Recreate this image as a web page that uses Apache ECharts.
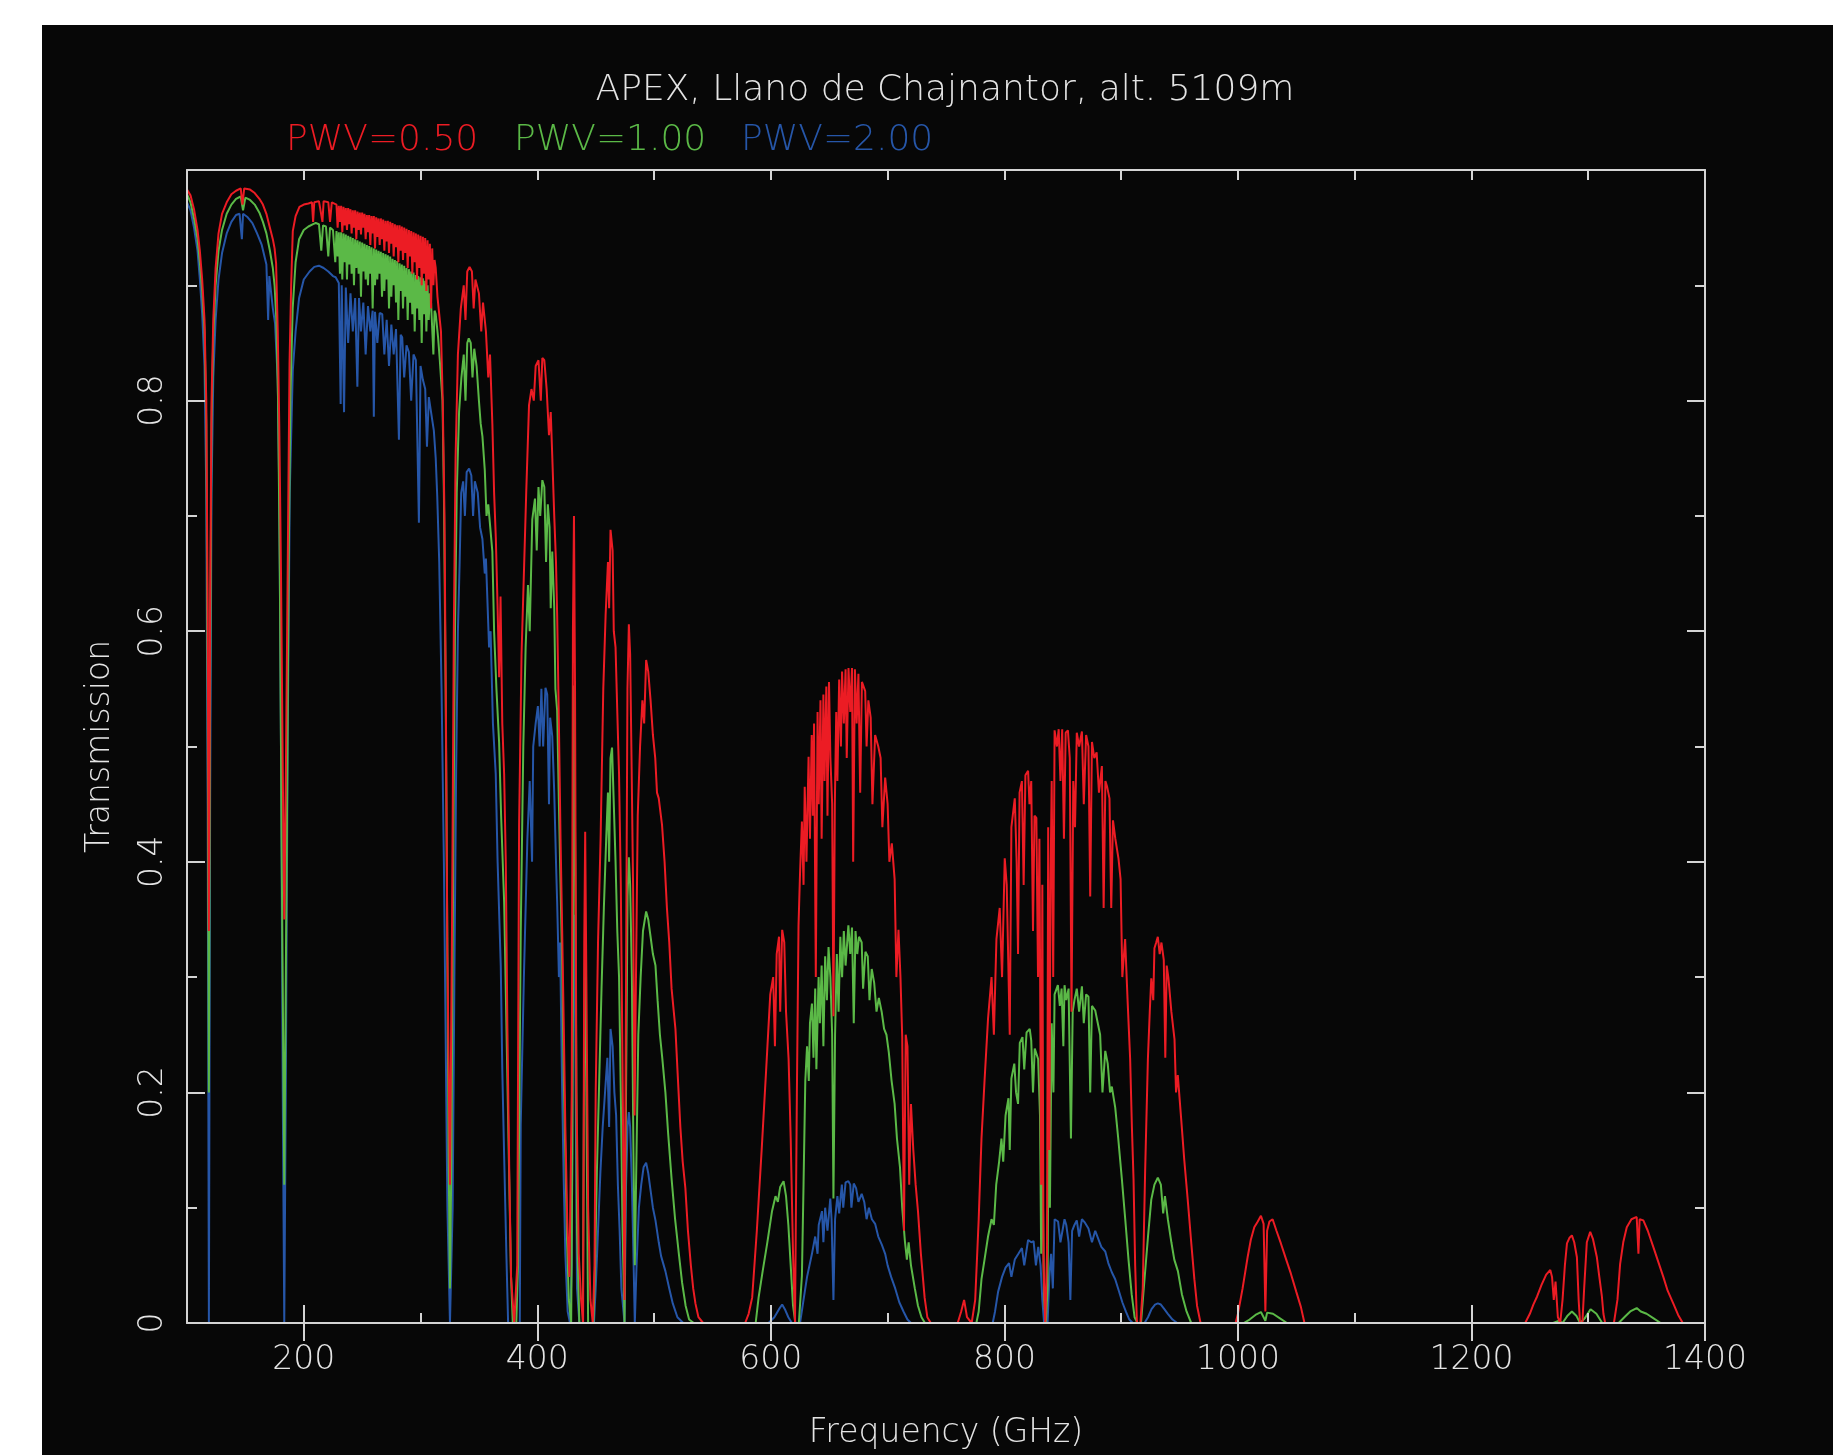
<!DOCTYPE html>
<html>
<head>
<meta charset="utf-8">
<script src="https://cdn.jsdelivr.net/npm/echarts@6.0.0/dist/echarts.min.js"></script>
<style>
  html, body { margin: 0; padding: 0; background: #ffffff; width: 1833px; height: 1455px; overflow: hidden; }
  #chart { position: absolute; left: 42px; top: 25px; width: 1791px; height: 1430px; }
</style>
</head>
<body>
<div id="chart"></div>
<script>
// ---- data: [frequency (GHz), transmission] ----
const titleText = 'APEX, Llano de Chajnantor, alt. 5109m';
const seriesNames = ['PWV=0.50', 'PWV=1.00', 'PWV=2.00'];
const seriesColors = ['#ec1c24', '#5bb947', '#2656a8'];
const freqMajorTicks = [200, 400, 600, 800, 1000, 1200, 1400];

const pwv050 = [
  [100,0.983],[103,0.978],[106,0.966],[109,0.948],[111,0.93],[113,0.905],[115,0.87],[116.5,0.80],[117.7,0.62],[118.75,0.34],
  [119.8,0.62],[121,0.80],[122.5,0.87],[124.5,0.915],[127,0.945],[130,0.962],[134,0.972],[138,0.979],[142,0.982],[146,0.984],
  [147.5,0.97],[149,0.984],[154,0.983],[158,0.98],[162,0.975],[165,0.97],[168,0.962],[171,0.95],[173.5,0.94],[175,0.932],
  [176.3,0.919],[177.7,0.861],[179,0.78],[180.5,0.65],[182,0.48],[183.3,0.35],[184.7,0.48],[186.2,0.65],[187.8,0.832],[189.2,0.90],
  [190.6,0.947],[193,0.96],[196.3,0.968],[200,0.970],[204,0.971],[207,0.972],[208,0.955],[209,0.972],[213,0.973],[216,0.955],
  [217,0.973],[221,0.972],[222.5,0.955],[224,0.972],
  [228,0.970],[229,0.950],[230,0.969],[231,0.955],[232,0.969],[233,0.946],[234,0.968],[235,0.952],[236,0.967],[237,0.948],
  [238,0.967],[239,0.953],[240,0.966],[241,0.945],[242,0.965],[243,0.950],[244,0.965],[245,0.940],[246,0.964],[247,0.948],
  [248,0.963],[249,0.944],[250,0.963],[251,0.950],[252,0.962],[253,0.940],[254,0.961],[255,0.946],[256,0.961],[257,0.935],
  [258,0.960],[259,0.945],[260,0.960],[261,0.932],[262,0.959],[263,0.942],[264,0.958],[265,0.935],[266,0.958],[267,0.940],
  [268,0.957],[269,0.930],[270,0.956],[271,0.938],[272,0.956],[273,0.928],[274,0.955],[275,0.936],[276,0.954],[277,0.925],
  [278,0.953],[279,0.933],[280,0.952],[281,0.920],[282,0.952],[283,0.930],[284,0.951],[285,0.922],[286,0.950],[287,0.928],
  [288,0.949],[289,0.915],[290,0.948],[291,0.925],[292,0.947],[293,0.910],[294,0.946],[295,0.920],[296,0.945],[297,0.905],
  [298,0.944],[299,0.915],[300,0.943],[301,0.900],[302,0.942],[303,0.910],[304,0.941],[305,0.895],[306,0.939],[307,0.905],
  [308,0.936],[309,0.880],[310,0.932],[311,0.900],[312,0.922],[313,0.915],[314.5,0.89],[316,0.89],
  [317.5,0.86],[319,0.80],[320.5,0.70],[321.8,0.52],[323,0.32],[325.2,0.12],[327,0.35],[328.5,0.60],[330,0.75],[332,0.84],
  [334.5,0.88],[337,0.90],[338.5,0.87],[340,0.912],[342,0.916],[344,0.912],[345.5,0.88],[347,0.905],[350,0.893],[352,0.86],
  [353.5,0.885],[356,0.86],[358,0.82],[359.5,0.84],[361.5,0.78],[363,0.72],[364.5,0.68],[366,0.62],[367.3,0.56],[368.5,0.63],
  [370,0.52],[371.6,0.476],[373,0.40],[374.4,0.255],[376,0.13],[377.5,0.04],[380.2,0.0],[382.8,0.05],[384.4,0.432],[386.5,0.58],
  [388.6,0.653],[390.5,0.72],[392.9,0.796],[395,0.81],[397,0.80],[398.6,0.83],[401,0.835],[403,0.80],[404.3,0.837],[406,0.835],
  [408,0.81],[410,0.77],[411.5,0.79],[412.8,0.752],[414.5,0.70],[416,0.66],[417,0.614],[418.5,0.52],[419.9,0.42],[421.3,0.34],
  [422.7,0.255],[424,0.17],[425.6,0.09],[427.5,0.04],[429.5,0.2],[430.5,0.6],[431.4,0.70],[432.3,0.55],[433.5,0.2],[435.5,0.06],
  [437.5,0.02],[439.2,0.0],[440.2,0.33],[441,0.426],[442,0.3],[443.5,0.1],[445.5,0.02],[447.5,0.0],[449,0.05],[450,0.2],
  [452,0.33],[454.2,0.42],[456.5,0.55],[458.5,0.614],[460.5,0.66],[461.5,0.62],[462.7,0.688],[464.5,0.67],[465.5,0.60],[467,0.586],
  [468.5,0.53],[470,0.476],[471.5,0.38],[473,0.22],[474.7,0.02],[476,0.3],[477.2,0.55],[478.4,0.606],[479.5,0.58],[480.8,0.48],
  [482,0.38],[483.3,0.18],[484.5,0.30],[486,0.44],[488,0.50],[490,0.54],[491.5,0.52],[493.2,0.575],[495,0.565],[497,0.54],
  [499,0.51],[501,0.49],[502.5,0.46],[504,0.455],[506.8,0.432],[509,0.40],[511,0.36],[513,0.33],[515,0.29],[518.3,0.255],
  [520,0.22],[522.5,0.17],[524.5,0.14],[526.8,0.117],[529,0.08],[531.5,0.05],[533.5,0.03],[535.4,0.017],[538,0.005],[542,0.0],
  [578,0.0],[581,0.008],[584,0.022],[588,0.08],[592.3,0.153],[596,0.22],[599.5,0.285],[602,0.30],[603.5,0.24],[605,0.32],
  [607,0.335],[608,0.27],[609.7,0.341],[611.5,0.33],[613,0.27],[615.2,0.229],[617,0.16],[619,0.06],[620.7,0.0],[622.3,0.2],
  [623.7,0.345],[625,0.39],[626.6,0.435],[628,0.38],[629,0.465],[630.5,0.40],[632.3,0.491],[633.5,0.42],[635,0.51],[636,0.44],
  [637,0.52],[638.5,0.30],[640,0.53],[641,0.45],[642.5,0.54],[643.5,0.42],[645,0.545],[646,0.47],[647.5,0.552],[648.5,0.44],
  [649.8,0.556],[651,0.49],[652.5,0.45],[653.6,0.266],[654.8,0.45],[656,0.53],[657,0.47],[658.5,0.558],[660,0.50],[661,0.565],
  [662.5,0.52],[664,0.567],[665,0.49],[666.5,0.568],[668,0.53],[669.5,0.568],[670.5,0.40],[672,0.567],[673.5,0.52],[675,0.563],
  [676.5,0.46],[678,0.556],[680.8,0.548],[682,0.50],[683.5,0.54],[685.5,0.525],[687,0.45],[689.3,0.51],[692,0.50],[694,0.49],
  [695.5,0.43],[697.9,0.473],[700,0.45],[701.5,0.40],[703.6,0.416],[706,0.385],[707.5,0.30],[709.3,0.341],[711,0.30],[712.5,0.248],
  [714,0.08],[715.5,0.25],[717,0.24],[718.5,0.12],[720,0.19],[722,0.15],[724,0.12],[726,0.097],[728.5,0.06],[731.7,0.022],
  [734,0.005],[737,0.0],[760,0.0],[763,0.01],[765.5,0.02],[768,0.005],[772,0.0],[775,0.02],[778,0.09],[780.4,0.16],
  [783,0.21],[786,0.264],[789,0.30],[791,0.25],[793.2,0.333],[796,0.36],[798,0.30],[800.3,0.403],[802,0.38],[804.6,0.25],
  [806,0.43],[808.9,0.455],[810.5,0.40],[811.7,0.32],[813,0.46],[815,0.47],[816.5,0.38],[818,0.475],[820.3,0.479],[821.5,0.45],
  [823,0.47],[824.5,0.34],[825.8,0.44],[827.4,0.438],[828.8,0.30],[830,0.42],[831.5,0.12],[832.5,0.38],[833.5,0.05],[835,0.0],
  [836.5,0.06],[837.5,0.43],[838.5,0.15],[839.5,0.38],[840.5,0.47],[841.8,0.30],[843,0.514],[845,0.50],[846.5,0.515],[848,0.47],
  [849.5,0.515],[851,0.42],[852.5,0.512],[854.4,0.514],[856,0.49],[857.5,0.27],[859,0.47],[860.5,0.43],[862,0.512],[864,0.50],
  [866.4,0.513],[868,0.45],[870,0.51],[872,0.50],[873.5,0.37],[875,0.504],[877,0.49],[879,0.495],[881,0.46],[883.5,0.483],
  [885,0.36],[886.5,0.47],[888,0.465],[890,0.455],[891.5,0.36],[893,0.436],[895,0.42],[897.7,0.403],[899.5,0.385],[901,0.30],
  [903.4,0.333],[905.5,0.28],[907.7,0.229],[909.2,0.17],[910.6,0.125],[912,0.05],[913.5,0.0],[916.5,0.0],[918.5,0.03],[920.5,0.13],
  [922.9,0.229],[924.5,0.27],[925.8,0.299],[927.5,0.28],[928.5,0.325],[930,0.33],[931.4,0.335],[933,0.32],[934.5,0.33],[936.5,0.315],
  [937.8,0.23],[939,0.31],[940.5,0.299],[943,0.27],[945.7,0.246],[947,0.20],[948.5,0.215],[951.4,0.177],[954,0.142],[957,0.107],
  [960,0.07],[962.7,0.038],[965,0.015],[968,0.0],[998,0.0],[1000,0.008],[1004,0.03],[1008.3,0.057],[1011,0.072],[1014,0.083],
  [1017,0.088],[1019.7,0.093],[1022,0.086],[1023.5,0.01],[1025,0.08],[1027,0.088],[1029.7,0.09],[1033,0.08],[1036.8,0.069],[1041,0.056],
  [1045.3,0.043],[1050,0.027],[1053.9,0.014],[1057,0.0],[1246,0.0],[1250,0.008],[1253,0.016],[1256.2,0.023],[1260,0.033],[1264,0.042],
  [1267.5,0.046],[1269,0.04],[1270.5,0.02],[1272,0.036],[1274,0.005],[1276,0.0],[1278,0.02],[1280,0.05],[1281.8,0.069],[1284,0.074],
  [1286,0.076],[1288,0.07],[1290.3,0.057],[1291.8,0.02],[1293,0.0],[1295,0.0],[1296.5,0.03],[1298.8,0.07],[1301.7,0.079],[1304,0.073],
  [1307.4,0.057],[1309.5,0.04],[1311.7,0.023],[1313,0.008],[1314.5,0.0],[1322,0.0],[1325,0.02],[1327.3,0.051],[1330,0.07],[1333,0.083],
  [1337,0.09],[1341.5,0.092],[1343,0.06],[1344,0.09],[1347.2,0.089],[1351,0.08],[1355.7,0.066],[1360,0.053],[1364.3,0.04],[1368,0.028],
  [1372.8,0.017],[1377,0.007],[1381,0.0],[1400,0.0]
];

const pwv100 = [
  [100,0.979],[103,0.972],[106,0.958],[109,0.94],[111,0.92],[113,0.895],[115,0.86],[116.5,0.78],[117.7,0.55],[118.75,0.20],
  [119.8,0.55],[121,0.78],[122.5,0.855],[124.5,0.90],[127,0.93],[130,0.948],[134,0.962],[138,0.97],[142,0.975],[146,0.977],
  [148,0.965],[150,0.976],[154,0.974],[158,0.97],[162,0.963],[165,0.955],[168,0.945],[171,0.93],[173.5,0.915],[175,0.90],
  [176.5,0.87],[178,0.80],[179.5,0.65],[181,0.42],[183.3,0.12],[185.5,0.42],[187,0.65],[188.5,0.80],[190.5,0.88],[193,0.92],
  [196,0.94],[200,0.948],[204,0.951],[208,0.953],[210.3,0.954],[213,0.953],[215,0.93],[216.5,0.952],[219,0.951],[221,0.925],
  [222.5,0.95],[225,0.948],[227,0.92],
  [228,0.947],[229,0.925],[230,0.946],[231,0.910],[232,0.946],[233,0.905],[234,0.945],[235,0.920],[236,0.944],[237,0.905],
  [238,0.943],[239,0.918],[240,0.942],[241,0.910],[242,0.941],[243,0.900],[244,0.940],[245,0.915],[246,0.939],[247,0.910],
  [248,0.938],[249,0.890],[250,0.937],[251,0.912],[252,0.936],[253,0.905],[254,0.935],[255,0.900],[256,0.934],[257,0.910],
  [258,0.933],[259,0.880],[260,0.932],[261,0.900],[262,0.931],[263,0.905],[264,0.930],[265,0.910],[266,0.929],[267,0.890],
  [268,0.928],[269,0.895],[270,0.927],[271,0.905],[272,0.926],[273,0.880],[274,0.925],[275,0.890],[276,0.923],[277,0.900],
  [278,0.922],[279,0.885],[280,0.921],[281,0.870],[282,0.919],[283,0.895],[284,0.918],[285,0.880],[286,0.917],[287,0.890],
  [288,0.915],[289,0.870],[290,0.914],[291,0.885],[292,0.912],[293,0.875],[294,0.911],[295,0.860],[296,0.909],[297,0.880],
  [298,0.908],[299,0.870],[300,0.907],[301,0.850],[302,0.906],[303,0.875],[304,0.904],[305,0.860],[306,0.900],[307,0.870],
  [308,0.893],[309,0.885],[310,0.885],[311,0.840],[312,0.878],[313,0.875],
  [315,0.855],[316.5,0.835],[318.8,0.80],[320,0.72],[321.5,0.55],[322.8,0.35],[324,0.15],[325.2,0.03],[326.5,0.15],[328,0.40],
  [329.5,0.60],[331,0.72],[333,0.79],[335,0.82],[337,0.84],[338.5,0.80],[340,0.85],[341.3,0.854],[343,0.85],[344.5,0.82],
  [346,0.845],[348,0.83],[350,0.80],[351.5,0.78],[353,0.769],[355,0.74],[356.5,0.70],[358,0.71],[361.5,0.669],[363,0.60],
  [365,0.55],[367.3,0.503],[369,0.44],[371.6,0.365],[373.5,0.26],[375.9,0.127],[377.5,0.04],[379,0.0],[382,0.0],[383.5,0.05],
  [385.8,0.338],[388,0.50],[390,0.586],[392,0.64],[393.5,0.60],[395.7,0.697],[398,0.715],[399.5,0.67],[401,0.725],[402.5,0.70],
  [404.3,0.731],[406,0.725],[407.5,0.66],[409,0.71],[410.5,0.69],[411.5,0.62],[412.8,0.669],[414.5,0.62],[415.5,0.55],[417,0.531],
  [418.5,0.45],[419.5,0.40],[421.3,0.31],[422.5,0.22],[424,0.145],[425.5,0.07],[427,0.02],[429,0.0],[430,0.15],[431.4,0.553],
  [432.5,0.40],[434,0.08],[436,0.0],[439,0.0],[440.2,0.25],[441,0.34],[442,0.20],[443.5,0.0],[448,0.0],[449.5,0.05],
  [451,0.13],[453,0.21],[455,0.29],[457,0.36],[459,0.42],[460.5,0.46],[461.5,0.40],[462.7,0.49],[464,0.499],[465.5,0.45],
  [467,0.40],[468.5,0.34],[470,0.30],[471.5,0.20],[473,0.08],[474.7,0.0],[476,0.20],[477.3,0.37],[478.4,0.404],[479.5,0.38],
  [481,0.30],[482.3,0.15],[483.5,0.05],[485,0.15],[486.5,0.25],[488.5,0.30],[490.5,0.34],[493.2,0.357],[495,0.35],[497,0.335],
  [499,0.32],[501.2,0.31],[503,0.28],[505,0.25],[507,0.23],[509.7,0.20],[512,0.165],[515,0.125],[518,0.09],[521,0.062],
  [524,0.035],[527,0.015],[530,0.003],[534,0.0],[587,0.0],[589.5,0.022],[593,0.045],[597,0.07],[601,0.097],[604,0.11],
  [606,0.105],[608,0.118],[610.9,0.123],[613,0.11],[615,0.085],[617,0.05],[619,0.015],[621,0.0],[624,0.0],[626.6,0.041],
  [628,0.12],[629.5,0.21],[631,0.24],[632.5,0.21],[633.5,0.26],[635.2,0.277],[636.5,0.23],[638,0.29],[639,0.22],[640.9,0.30],
  [642,0.26],[643.5,0.31],[645,0.24],[646.5,0.318],[648,0.28],[649.4,0.326],[651,0.30],[652.5,0.25],[653.6,0.108],[655,0.25],
  [656.5,0.32],[658,0.27],[659.5,0.335],[661,0.30],[662.5,0.34],[664,0.31],[666.4,0.345],[668,0.32],[669.5,0.343],[671,0.26],
  [672.5,0.34],[674,0.32],[675.5,0.335],[677.8,0.33],[679,0.29],[681,0.322],[683,0.318],[684.5,0.28],[686.4,0.307],[688.5,0.295],
  [690.5,0.27],[692.5,0.282],[694.9,0.27],[697,0.255],[699,0.25],[701,0.235],[703.4,0.21],[706,0.19],[708,0.16],[710.6,0.135],
  [712.5,0.10],[714.8,0.071],[716.5,0.055],[718,0.07],[720,0.05],[723.3,0.03],[726,0.015],[729,0.005],[732,0.0],[776,0.0],
  [778,0.01],[780.4,0.038],[783,0.055],[786,0.075],[789,0.09],[791,0.085],[793,0.12],[795.5,0.14],[797.5,0.16],[799,0.14],
  [801,0.18],[803.5,0.195],[804.6,0.15],[806,0.212],[808.5,0.225],[810,0.20],[811.7,0.19],[813.2,0.243],[815.5,0.248],[817,0.22],
  [819,0.252],[821.7,0.255],[823,0.245],[824.5,0.20],[826,0.238],[828.9,0.229],[830.5,0.18],[831.5,0.06],[832.5,0.15],[834,0.02],
  [835.5,0.0],[837,0.03],[838,0.23],[839,0.10],[840.5,0.26],[842,0.20],[843,0.285],[845.8,0.293],[847.5,0.275],[849,0.29],
  [850.5,0.24],[851.5,0.293],[853,0.28],[855,0.29],[857,0.16],[858.5,0.27],[860,0.28],[862,0.29],[864,0.27],[866.4,0.292],
  [868,0.26],[870,0.285],[872,0.283],[873.5,0.20],[875,0.275],[877.8,0.271],[880,0.26],[882,0.25],[884,0.20],[886.4,0.236],
  [888.5,0.225],[890.5,0.20],[892,0.205],[894.9,0.187],[897.5,0.16],[900.6,0.125],[903.5,0.09],[906.3,0.055],[909,0.025],[911.5,0.005],
  [914,0.0],[917,0.0],[920,0.038],[923,0.075],[925.8,0.107],[928.5,0.12],[931.4,0.126],[934,0.12],[936,0.095],[937.5,0.11],
  [940,0.09],[943,0.07],[945.5,0.055],[948.6,0.045],[952,0.025],[956,0.01],[960,0.0],[1005,0.0],[1010,0.003],[1015,0.007],
  [1019.7,0.0095],[1023.5,0.002],[1025,0.009],[1030,0.008],[1036,0.004],[1042,0.0],[1270,0.0],[1275,0.002],[1278,0.0],[1282,0.006],
  [1286,0.01],[1290,0.006],[1293,0.0],[1297,0.004],[1302,0.012],[1307,0.008],[1312,0.0],[1326,0.0],[1332,0.006],[1336,0.01],
  [1341.5,0.013],[1345,0.01],[1350,0.008],[1356,0.004],[1362,0.0],[1400,0.0]
];

const pwv200 = [
  [100,0.972],[103,0.965],[106,0.95],[109,0.93],[111,0.905],[113,0.875],[115,0.83],[116.5,0.72],[117.7,0.45],[118.75,0.0],
  [119.8,0.45],[121,0.72],[122.5,0.82],[124.5,0.87],[127,0.905],[130,0.928],[134,0.945],[138,0.955],[142,0.961],[145,0.962],
  [147,0.94],[148,0.962],[152,0.959],[156,0.954],[160,0.945],[164,0.935],[168,0.918],[169.5,0.87],[170.5,0.908],[173.5,0.88],
  [175.4,0.867],[177.7,0.818],[179,0.72],[180.5,0.50],[182,0.20],[183.3,0.0],[184.6,0.20],[186.2,0.50],[188,0.72],[190.6,0.826],
  [193,0.86],[196,0.889],[200,0.905],[205,0.912],[209,0.916],[213,0.917],[217,0.915],[221,0.912],[225,0.908],[227.3,0.907],
  [230,0.902],[231.6,0.797],[232.5,0.90],[234.5,0.79],[236,0.898],[238,0.85],[240,0.893],[242,0.86],[244,0.889],[245.9,0.812],
  [247.3,0.889],[249,0.86],[251,0.885],[253,0.84],[255,0.882],[257,0.86],[259,0.878],[260,0.786],[261,0.877],[263,0.85],
  [265,0.876],[267.2,0.875],[269,0.84],[271,0.870],[273,0.83],[275,0.866],[277,0.84],[279,0.862],[281.5,0.766],[283,0.857],
  [284.3,0.855],[286,0.82],[288,0.848],[290,0.842],[292,0.80],[294,0.84],[296,0.835],[298.6,0.694],[300,0.83],[302,0.818],
  [304,0.81],[305.5,0.76],[307.1,0.803],[309,0.79],[311.4,0.774],[313,0.75],[314.3,0.717],[316,0.66],[318,0.55],[320,0.40],
  [321.5,0.25],[323,0.10],[325.2,0.0],[327.5,0.10],[329,0.30],[330.5,0.48],[332,0.60],[333.5,0.66],[334.8,0.72],[336.5,0.73],
  [338,0.70],[339.5,0.738],[341.6,0.741],[343.5,0.735],[345,0.70],[346.5,0.73],[349,0.72],[351,0.69],[353,0.68],[355,0.65],
  [356,0.663],[358.7,0.586],[360,0.60],[362,0.52],[364.4,0.476],[366,0.40],[368.7,0.31],[370,0.22],[371.6,0.145],[373.5,0.06],
  [375,0.0],[385,0.0],[385.8,0.172],[388.5,0.30],[391.5,0.42],[393.5,0.47],[395.5,0.40],[396.5,0.50],[398.6,0.52],[400.5,0.535],
  [402,0.50],[403.5,0.55],[405,0.50],[407,0.551],[408.5,0.545],[410,0.45],[411,0.525],[412.8,0.509],[414.5,0.46],[416,0.40],
  [417,0.365],[418.5,0.30],[419.5,0.33],[421.3,0.2],[422.7,0.12],[424,0.06],[426,0.01],[428,0.0],[429.5,0.05],[430.5,0.30],
  [431.4,0.354],[432.5,0.25],[434,0.03],[436,0.0],[448.5,0.0],[450,0.03],[452,0.08],[454,0.13],[456,0.17],[458,0.20],
  [460,0.23],[461.5,0.17],[462.7,0.255],[464.5,0.24],[466,0.2],[467.5,0.18],[469,0.12],[470.5,0.08],[472,0.03],[474.7,0.0],
  [476,0.12],[477.3,0.17],[478.4,0.183],[479.5,0.17],[481,0.12],[482.5,0.05],[483.5,0.0],[485,0.05],[487,0.10],[489,0.12],
  [491,0.135],[493.2,0.139],[495,0.13],[497,0.115],[499,0.10],[501.2,0.089],[504,0.07],[506,0.058],[509.7,0.045],[513,0.03],
  [516,0.017],[520,0.005],[525,0.0],[598,0.0],[603,0.005],[607,0.012],[609.7,0.016],[612,0.012],[615,0.005],[618,0.0],
  [625,0.0],[628,0.02],[631,0.04],[635.2,0.06],[638,0.075],[640,0.06],[641,0.085],[643.8,0.097],[645,0.07],[646.5,0.10],
  [648.5,0.08],[650.9,0.108],[652,0.09],[653.6,0.02],[655,0.09],[657,0.11],[658.5,0.095],[660.8,0.12],[662,0.10],[664,0.122],
  [666.4,0.123],[668,0.12],[669,0.10],[671,0.121],[673,0.117],[675,0.105],[677.8,0.112],[680,0.105],[682,0.09],[684,0.10],
  [686.5,0.09],[689.3,0.086],[692,0.075],[695,0.068],[697.9,0.06],[700,0.05],[703,0.04],[706.5,0.03],[710,0.018],[713.6,0.01],
  [717,0.003],[720,0.0],[790,0.0],[792,0.01],[794.6,0.027],[798,0.04],[801,0.048],[804,0.052],[806,0.04],[808.9,0.055],
  [812,0.06],[815,0.065],[817,0.05],[820.3,0.072],[823,0.07],[825,0.071],[827,0.05],[829,0.066],[831,0.05],[832.5,0.02],
  [834,0.0],[837,0.0],[838.5,0.04],[840,0.06],[841.5,0.03],[843,0.09],[846,0.088],[848,0.07],[851.5,0.09],[853,0.085],
  [855,0.07],[856.5,0.02],[858,0.08],[860,0.085],[862,0.089],[864,0.075],[866.4,0.09],[869,0.087],[872,0.082],[875,0.07],
  [877.8,0.08],[880,0.074],[883,0.066],[886.4,0.062],[889,0.052],[892,0.044],[894.9,0.038],[898,0.028],[901,0.018],[904,0.01],
  [907,0.003],[910,0.0],[920,0.0],[923,0.005],[926,0.012],[929,0.016],[931.4,0.017],[934,0.016],[937,0.012],[940,0.008],
  [944,0.003],[948,0.0],[1400,0.0]
];

// ---- chart ----
const textColor = '#e4e4e4';
const axisColor = '#d4d4d4';
const fontFamily = 'DejaVu Sans';
const fontWeight = 200;

const chart = echarts.init(document.getElementById('chart'), null, { renderer: 'canvas' });

const grid = { left: 145, top: 145, width: 1518, height: 1155 };

function tickAxis(pos, len, custom) {
  const a = {
    type: 'value', position: pos, min: 100, max: 1400, interval: 100, z: 5,
    axisLine: { show: false },
    axisTick: { show: true, inside: true, length: len, lineStyle: { color: axisColor, width: 2 } },
    axisLabel: { show: false },
    splitLine: { show: false }
  };
  if (custom) a.axisTick.customValues = custom;
  return a;
}

const option = {
  backgroundColor: '#070707',
  animation: false,
  title: {
    text: titleText,
    left: 898, top: 43, textAlign: 'center',
    textStyle: { color: textColor, fontSize: 36, fontWeight: fontWeight, fontFamily: fontFamily }
  },
  legend: seriesNames.map((n, i) => ({
    data: [{ name: n, textStyle: { color: seriesColors[i] } }],
    left: [239, 467, 694][i], top: 98, padding: 0,
    icon: 'none', itemWidth: 0, itemHeight: 10,
    textStyle: { fontSize: 36, fontWeight: fontWeight, fontFamily: fontFamily, color: seriesColors[i] }
  })),
  grid: grid,
  xAxis: [
    {
      type: 'value', position: 'bottom', min: 100, max: 1400, interval: 100, z: 5,
      name: 'Frequency (GHz)', nameLocation: 'middle', nameGap: 94,
      nameTextStyle: { color: textColor, fontSize: 33, fontWeight: fontWeight, fontFamily: fontFamily },
      axisLine: { show: true, onZero: false, lineStyle: { color: axisColor, width: 2 } },
      axisTick: { show: true, inside: true, length: 10, lineStyle: { color: axisColor, width: 2 } },
      axisLabel: {
        show: true, margin: 21, color: textColor, fontSize: 33, fontWeight: fontWeight, fontFamily: fontFamily,
        showMinLabel: true, showMaxLabel: true,
        formatter: v => (freqMajorTicks.indexOf(Math.round(v)) >= 0 ? String(Math.round(v)) : '')
      },
      splitLine: { show: false }
    },
    tickAxis('bottom', 18, freqMajorTicks),
    Object.assign(tickAxis('top', 10, null), { axisLine: { show: true, onZero: false, lineStyle: { color: axisColor, width: 2 } } }),
    tickAxis('top', 18, freqMajorTicks)
  ],
  yAxis: [
    {
      type: 'value', position: 'left', min: 0, max: 1, interval: 0.2, z: 5,
      name: 'Transmission', nameLocation: 'middle', nameGap: 70, nameRotate: 90,
      nameTextStyle: { color: textColor, fontSize: 33, fontWeight: fontWeight, fontFamily: fontFamily },
      axisLine: { show: true, onZero: false, lineStyle: { color: axisColor, width: 2 } },
      axisTick: { show: true, inside: true, length: 18, lineStyle: { color: axisColor, width: 2 } },
      minorTick: { show: true, splitNumber: 2, length: 10, lineStyle: { color: axisColor, width: 2 } },
      axisLabel: {
        show: true, rotate: 90, margin: 17, color: textColor, fontSize: 33, fontWeight: fontWeight, fontFamily: fontFamily,
        formatter: v => (v >= 0.999 ? '' : (v === 0 ? '0' : String(+v.toFixed(1))))
      },
      splitLine: { show: false }
    },
    {
      type: 'value', position: 'right', min: 0, max: 1, interval: 0.2, z: 5,
      axisLine: { show: true, onZero: false, lineStyle: { color: axisColor, width: 2 } },
      axisTick: { show: true, inside: true, length: 18, lineStyle: { color: axisColor, width: 2 } },
      minorTick: { show: true, splitNumber: 2, length: 10, lineStyle: { color: axisColor, width: 2 } },
      axisLabel: { show: false },
      splitLine: { show: false }
    }
  ],
  series: [
    { name: seriesNames[2], type: 'line', data: pwv200, xAxisIndex: 0, yAxisIndex: 0, showSymbol: false, symbol: 'none',
      lineStyle: { color: seriesColors[2], width: 2 }, itemStyle: { color: seriesColors[2] } },
    { name: seriesNames[1], type: 'line', data: pwv100, xAxisIndex: 0, yAxisIndex: 0, showSymbol: false, symbol: 'none',
      lineStyle: { color: seriesColors[1], width: 2 }, itemStyle: { color: seriesColors[1] } },
    { name: seriesNames[0], type: 'line', data: pwv050, xAxisIndex: 0, yAxisIndex: 0, showSymbol: false, symbol: 'none',
      lineStyle: { color: seriesColors[0], width: 2 }, itemStyle: { color: seriesColors[0] } }
  ]
};

chart.setOption(option);
</script>
</body>
</html>
